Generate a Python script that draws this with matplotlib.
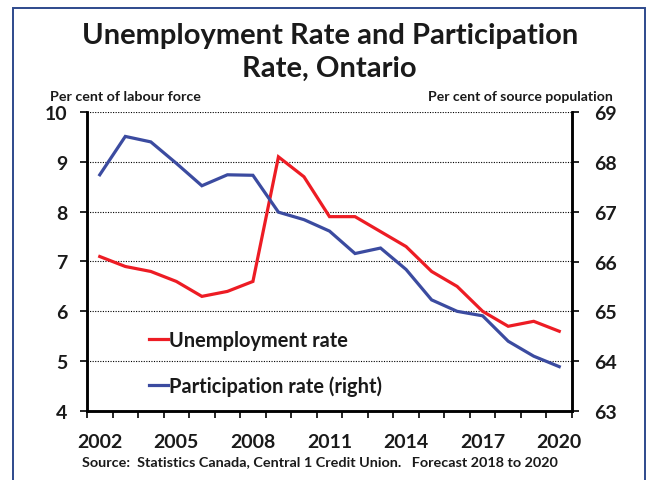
import matplotlib
matplotlib.use("Agg")
import matplotlib.pyplot as plt
from matplotlib.patches import Rectangle
import numpy as np

plt.rcParams['font.family'] = ['Lato', 'DejaVu Sans']
plt.rcParams['font.weight'] = 'bold'

years = list(range(2002, 2021))
unemployment = [7.1, 6.9, 6.8, 6.6, 6.3, 6.4, 6.6, 9.1, 8.7, 7.9, 7.9, 7.6,
                7.3, 6.8, 6.5, 6.0, 5.7, 5.8, 5.6]
participation = [67.74, 68.51, 68.40, 67.97, 67.52, 67.74, 67.73, 66.99, 66.84,
                 66.61, 66.16, 66.27, 65.84, 65.23, 65.00, 64.91, 64.40, 64.10, 63.89]
year_labels = [2002, 2005, 2008, 2011, 2014, 2017, 2020]

RED = '#ED1C24'
BLUE = '#3B4BA0'
INK = '#1a1a1a'
W, H = 647, 481

fig = plt.figure(figsize=(W / 100, H / 100), dpi=100)
fig.patch.set_facecolor('white')

# outer frame
fig.patches.append(Rectangle((13 / W, -0.05), (645 - 13) / W, (481 - 9) / H + 0.05,
                             transform=fig.transFigure, fill=False,
                             edgecolor='#2E4A8C', linewidth=1.4))

ax = fig.add_axes([87 / W, (H - 412) / H, (572 - 87) / W, (412 - 113) / H])
ax2 = ax.twinx()

ax.set_xlim(2001.5, 2020.5)
ax.set_ylim(4, 10)
ax2.set_ylim(63, 69)

ln1, = ax.plot(years, unemployment, color=RED, lw=2.3, solid_joinstyle='miter')
ln2, = ax2.plot(years, participation, color=BLUE, lw=2.3, solid_joinstyle='miter')

# grid
ax.set_yticks(range(4, 11))
ax.yaxis.grid(True, linestyle=(0, (1, 1.3)), color='black', lw=0.8)
ax.set_axisbelow(True)
ax2.set_yticks(range(63, 70))

for a in (ax, ax2):
    a.spines['top'].set_visible(False)
    for s in ('left', 'right', 'bottom'):
        a.spines[s].set_linewidth(1.8)
        a.spines[s].set_color('black')

ax.set_xticks(year_labels)
ax.set_xticks(np.arange(2001.5, 2021.0, 1.0), minor=True)
ax.tick_params(axis='x', which='major', length=0, pad=16, labelsize=14)
ax.tick_params(axis='x', which='minor', length=5, width=1.2, direction='out')
ax.tick_params(axis='y', length=5, width=1.2, direction='out', pad=9, labelsize=14)
ax2.tick_params(axis='y', length=5, width=1.2, direction='out', pad=11, labelsize=14)
for lab in ax.get_xticklabels() + ax.get_yticklabels() + ax2.get_yticklabels():
    lab.set_fontweight('bold')
    lab.set_color(INK)

# titles and axis captions
fig.text(330 / W, 1 - 44 / H, 'Unemployment Rate and Participation', ha='center', va='baseline',
         fontsize=21, fontweight='bold', color=INK)
fig.text(329 / W, 1 - 77 / H, 'Rate, Ontario', ha='center', va='baseline',
         fontsize=21, fontweight='bold', color=INK)
fig.text(50 / W, 1 - 101 / H, 'Per cent of labour force', ha='left', va='baseline',
         fontsize=10.3, fontweight='bold', color=INK)
fig.text(613 / W, 1 - 101 / H, 'Per cent of source population', ha='right', va='baseline',
         fontsize=10.1, fontweight='bold', color=INK)
fig.text(82 / W, 1 - 462 / H, 'Source:  Statistics Canada, Central 1 Credit Union.   Forecast 2018 to 2020',
         ha='left', va='center', fontsize=10.4, fontweight='bold', color=INK)

leg = ax.legend([ln1, ln2], ['Unemployment rate', 'Participation rate (right)'],
                loc='upper left', bbox_to_anchor=(141 / W, 1 - 323 / H),
                bbox_transform=fig.transFigure, frameon=False,
                handlelength=0.95, handletextpad=0.05, labelspacing=1.25,
                prop={'weight': 'bold', 'size': 14.4}, borderaxespad=0)
for t in leg.get_texts():
    t.set_color(INK)

fig.savefig('out.png', dpi=100, facecolor='white')
